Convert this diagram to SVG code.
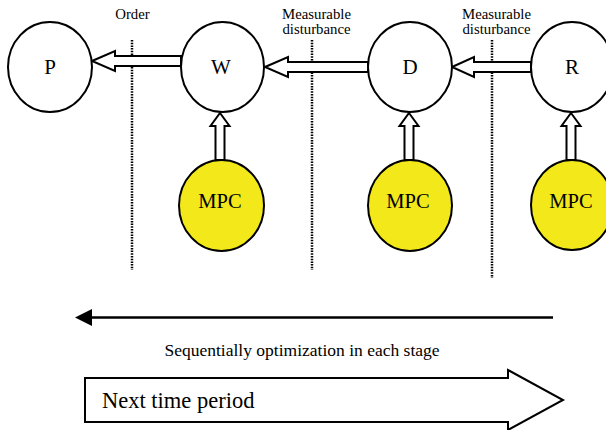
<svg xmlns="http://www.w3.org/2000/svg" width="606" height="430" viewBox="0 0 606 430">
<style>
.node{fill:#fff;stroke:#000;stroke-width:2}
.mpc{fill:#F2E81A;stroke:#000;stroke-width:2}
text{font-family:'Liberation Serif','Times New Roman','DejaVu Serif',serif;fill:#000;text-anchor:middle}
.big{font-size:21px}
.lbl{font-size:14.8px}
.mp{font-size:20.5px}
.arr{fill:#fff;stroke:#000;stroke-width:2;stroke-linejoin:miter}
.dot{stroke:#000;stroke-width:2.5;stroke-dasharray:1.5 1.2;fill:none}
</style>
<rect width="606" height="430" fill="#fff"/>
<g id="dividers">
<line class="dot" x1="132" y1="40" x2="132" y2="270"/>
<line class="dot" x1="312" y1="40" x2="312" y2="270"/>
<line class="dot" x1="492" y1="40" x2="492" y2="278"/>
</g>
<g id="labels">
<text class="lbl" x="132.5" y="19">Order</text>
<text class="lbl" x="316.5" y="19">Measurable</text>
<text class="lbl" x="316.5" y="34">disturbance</text>
<text class="lbl" x="496.5" y="19">Measurable</text>
<text class="lbl" x="496.5" y="34">disturbance</text>
</g>
<g id="connectors">
<polygon class="arr" points="92,61 115,51 115,56 181,56 181,66 115,66 115,71"/>
<polygon class="arr" points="265,67 288,57 288,62 368,62 368,72 288,72 288,77"/>
<polygon class="arr" points="452,67 474,57 474,62 531,62 531,72 474,72 474,77"/>
<polygon class="arr" points="220,113 229.5,126 224.5,126 224.5,160 215.5,160 215.5,126 210.5,126"/>
<polygon class="arr" points="409,113 418.5,126 413.5,126 413.5,160 404.5,160 404.5,126 399.5,126"/>
<polygon class="arr" points="571,113 580.5,126 575.5,126 575.5,160 566.5,160 566.5,126 561.5,126"/>
</g>
<g id="node-P"><ellipse class="node" cx="50" cy="67" rx="42" ry="45"/><text class="big" x="50" y="74">P</text></g>
<g id="node-W"><ellipse class="node" cx="222.5" cy="67" rx="41.5" ry="45"/><text class="big" x="221" y="74">W</text></g>
<g id="node-D"><ellipse class="node" cx="410" cy="67" rx="42" ry="45"/><text class="big" x="410" y="74">D</text></g>
<g id="node-R"><ellipse class="node" cx="572" cy="67" rx="41" ry="45"/><text class="big" x="572" y="74">R</text></g>
<g id="node-MPC1"><ellipse class="mpc" cx="221.5" cy="205.5" rx="42.5" ry="45.5"/><text class="mp" x="220" y="208">MPC</text></g>
<g id="node-MPC2"><ellipse class="mpc" cx="410" cy="205.5" rx="42" ry="45.5"/><text class="mp" x="408" y="208">MPC</text></g>
<g id="node-MPC3"><ellipse class="mpc" cx="572" cy="205" rx="41" ry="45"/><text class="mp" x="571" y="208">MPC</text></g>
<g id="sequence-arrow">
<line x1="553" y1="317.5" x2="90" y2="317.5" stroke="#000" stroke-width="2.5"/>
<polygon points="75,317.5 92,309 92,326" fill="#000"/>
<text style="font-size:17.5px" x="302" y="356">Sequentially optimization in each stage</text>
</g>
<g id="time-arrow">
<polygon class="arr" points="85,378 508,378 508,370 563,400 508,430 508,422 85,422"/>
<text style="font-size:22.5px;text-anchor:start" x="102" y="408">Next time period</text>
</g>
</svg>
